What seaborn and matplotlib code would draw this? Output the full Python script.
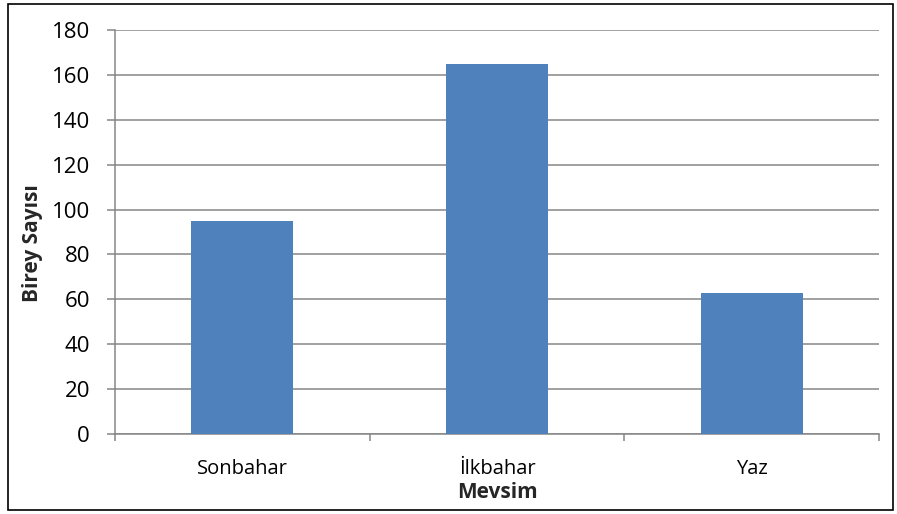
import matplotlib
matplotlib.use("Agg")
import matplotlib.pyplot as plt
import seaborn as sns
import pandas as pd
from matplotlib.patches import Rectangle
from matplotlib.ticker import FixedLocator

categories = ["Sonbahar", "İlkbahar", "Yaz"]
values = [95, 165, 63]
yticks = [0, 20, 40, 60, 80, 100, 120, 140, 160, 180]

sns.set_style("white")
plt.rcParams['font.family'] = ['Open Sans', 'DejaVu Sans']

W, H = 897, 514
fig = plt.figure(figsize=(W / 100, H / 100), dpi=100)
ax = fig.add_axes([115 / W, (H - 434) / H, (879 - 115) / W, (434 - 30) / H])

df = pd.DataFrame({"Mevsim": categories, "Birey Sayısı": values})
sns.barplot(data=df, x="Mevsim", y="Birey Sayısı", color="#4F81BD",
            width=0.4, saturation=1, linewidth=0, ax=ax, zorder=3)

grid_c = "#868686"
ax.set_ylim(0, 180)
ax.set_xlim(-0.5, 2.5)
ax.set_yticks(yticks)
ax.yaxis.grid(True, color=grid_c, linewidth=1.1, zorder=0)
ax.set_axisbelow(True)
for s in ["top", "right"]:
    ax.spines[s].set_visible(False)
for s in ["left", "bottom"]:
    ax.spines[s].set_color(grid_c)
    ax.spines[s].set_linewidth(1.1)

ax.tick_params(axis="y", which="major", length=6, width=1.1, color=grid_c,
               labelsize=16, pad=12, left=True, labelcolor="black")
ax.tick_params(axis="x", which="major", length=0, labelsize=14.5, pad=18,
               labelcolor="black")
ax.xaxis.set_minor_locator(FixedLocator([-0.5, 0.5, 1.5, 2.5]))
ax.tick_params(axis="x", which="minor", length=5, width=1.1, color=grid_c,
               bottom=True, direction="out")

ax.set_xlabel("Mevsim", fontsize=15, fontweight="bold")
ax.xaxis.set_label_coords(0.5, (434 - 482) / 404)
ax.set_ylabel("Birey Sayısı", fontsize=15, fontweight="bold")
ax.yaxis.set_label_coords(-72 / 764, 0.473)

fig.patches.append(Rectangle((8 / W, 4 / H), (893 - 8) / W, (510 - 4) / H,
                             transform=fig.transFigure, fill=False,
                             edgecolor="black", linewidth=1.2))

fig.savefig("out.png", dpi=100)
